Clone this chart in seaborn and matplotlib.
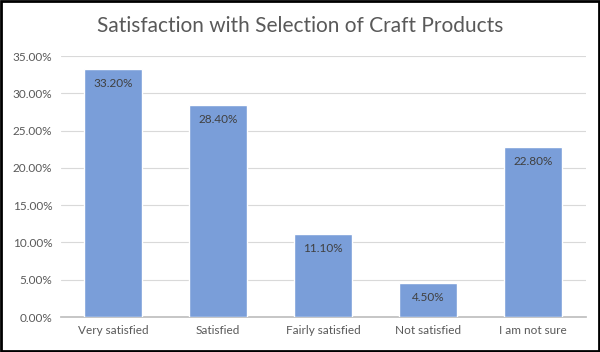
import pandas as pd
import seaborn as sns
import matplotlib.pyplot as plt
from matplotlib.patches import Rectangle
from matplotlib.ticker import PercentFormatter

categories = ["Very satisfied", "Satisfied", "Fairly satisfied", "Not satisfied", "I am not sure"]
shares = [33.20, 28.40, 11.10, 4.50, 22.80]

df = pd.DataFrame({"category": categories, "share": shares})

sns.set_theme(style="white")
plt.rcParams["font.family"] = ["Lato", "DejaVu Sans"]

fig = plt.figure(figsize=(6, 3.52), dpi=100)
ax = fig.add_axes([0.101, 0.0994, 0.875, 0.7415])

sns.barplot(data=df, x="category", y="share", color="#7A9ED9", saturation=1,
            width=0.55, ax=ax, zorder=3)

ax.set_ylim(0, 35)
ax.set_yticks([0, 5, 10, 15, 20, 25, 30, 35])
ax.yaxis.set_major_formatter(PercentFormatter(decimals=2))
ax.grid(axis="y", color="#d9d9d9", linewidth=0.8, zorder=0)
ax.set_xlabel("")
ax.set_ylabel("")
for s in ["top", "right", "left"]:
    ax.spines[s].set_visible(False)
ax.spines["bottom"].set_color("#bfbfbf")
ax.tick_params(axis="both", length=0, labelsize=8.5, colors="#595959", pad=6)

for p, v in zip(ax.patches, shares):
    ax.text(p.get_x() + p.get_width() / 2, v - 1.2, f"{v:.2f}%",
            ha="center", va="top", fontsize=8.5, color="#404040")

fig.text(0.5, 0.925, "Satisfaction with Selection of Craft Products",
         ha="center", va="center", fontsize=15, color="#595959")

fig.patches.append(Rectangle((0.002, 0.003), 0.996, 0.994, transform=fig.transFigure,
                             fill=False, edgecolor="black", linewidth=2))

fig.savefig("out.png", dpi=100)
